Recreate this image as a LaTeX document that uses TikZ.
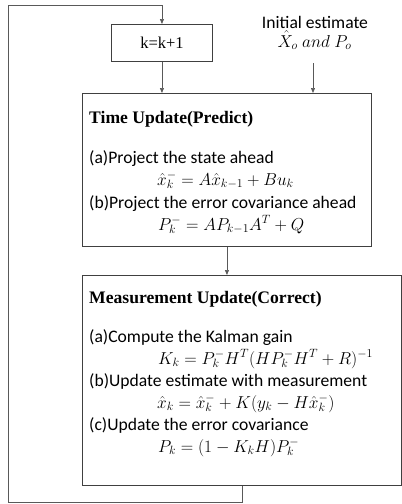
\documentclass[tikz,border=0pt]{standalone}
\usepackage{fontspec}
\setmainfont{Liberation Serif}
\newfontfamily\calib{Carlito}
\usetikzlibrary{arrows.meta}
\begin{document}
\begin{tikzpicture}[x=1pt,y=-1pt,
  box/.style={draw=black!75, line width=0.9pt, inner sep=0, anchor=north west,
    font=\fontsize{16.5}{18}\selectfont},
  conn/.style={draw=black!65, line width=0.7pt},
  arr/.style={conn,-{Triangle[length=5pt,width=4pt]}},
  sans/.style={font=\calib\fontsize{17.6}{19}\selectfont, anchor=base west, inner sep=0},
  title/.style={font=\bfseries\fontsize{17.6}{19}\selectfont, anchor=base west, inner sep=0},
  formula/.style={font=\fontsize{17.6}{19}\selectfont, anchor=base west, inner sep=0}]
\useasboundingbox (0,0) rectangle (402,504);
% boxes
\node[box, minimum width=101pt, minimum height=37pt] (k) at (111,24) {k=k+1};
\node[box, minimum width=289pt, minimum height=153pt] (tu) at (82,93) {};
\node[box, minimum width=319pt, minimum height=210pt] (mu) at (82,275) {};
% initial estimate
\node[sans, anchor=base] (init) at (315,28) {Initial estimate};
\node[formula, anchor=base] (init2) at (314.5,47) {$\hat{X}_o\ and\ P_o$};
% time update text
\node[title] (t1) at (89,123) {Time Update(Predict)};
\node[sans] (a1) at (89,163) {(a)Project the state ahead};
\node[formula] (f1) at (157,185) {$\hat{x}_k^- = A\hat{x}_{k-1} + Bu_k$};
\node[sans] (b1) at (89,208) {(b)Project the error covariance ahead};
\node[formula] (f2) at (158,230) {$P_k^- = AP_{k-1}A^T + Q$};
% measurement update text
\node[title] (t2) at (89,303) {Measurement Update(Correct)};
\node[sans] (a2) at (89,342) {(a)Compute the Kalman gain};
\node[formula] (f3) at (158,364) {$K_k = P_k^- H^T (HP_k^- H^T + R)^{-1}$};
\node[sans] (b2) at (89,386) {(b)Update estimate with measurement};
\node[formula] (f4) at (157,408) {$\hat{x}_k = \hat{x}_k^- + K(y_k - H\hat{x}_k^-)$};
\node[sans] (c2) at (89,430) {(c)Update the error covariance};
\node[formula] (f5) at (158,452) {$P_k = (1 - K_k H)P_k^-$};
% connectors
\coordinate (lb) at (8,502);
\coordinate (lt) at (8,5);
\coordinate (ia) at (313,63);
\draw[arr] (mu.south) |- (lb) -- (lt) -| (k.north);
\draw[arr] (k.south) -- (k.south |- tu.north);
\draw[arr] (ia) -- (ia |- tu.north);
\draw[arr] (tu.south) -- (tu.south |- mu.north);
\end{tikzpicture}
\end{document}
